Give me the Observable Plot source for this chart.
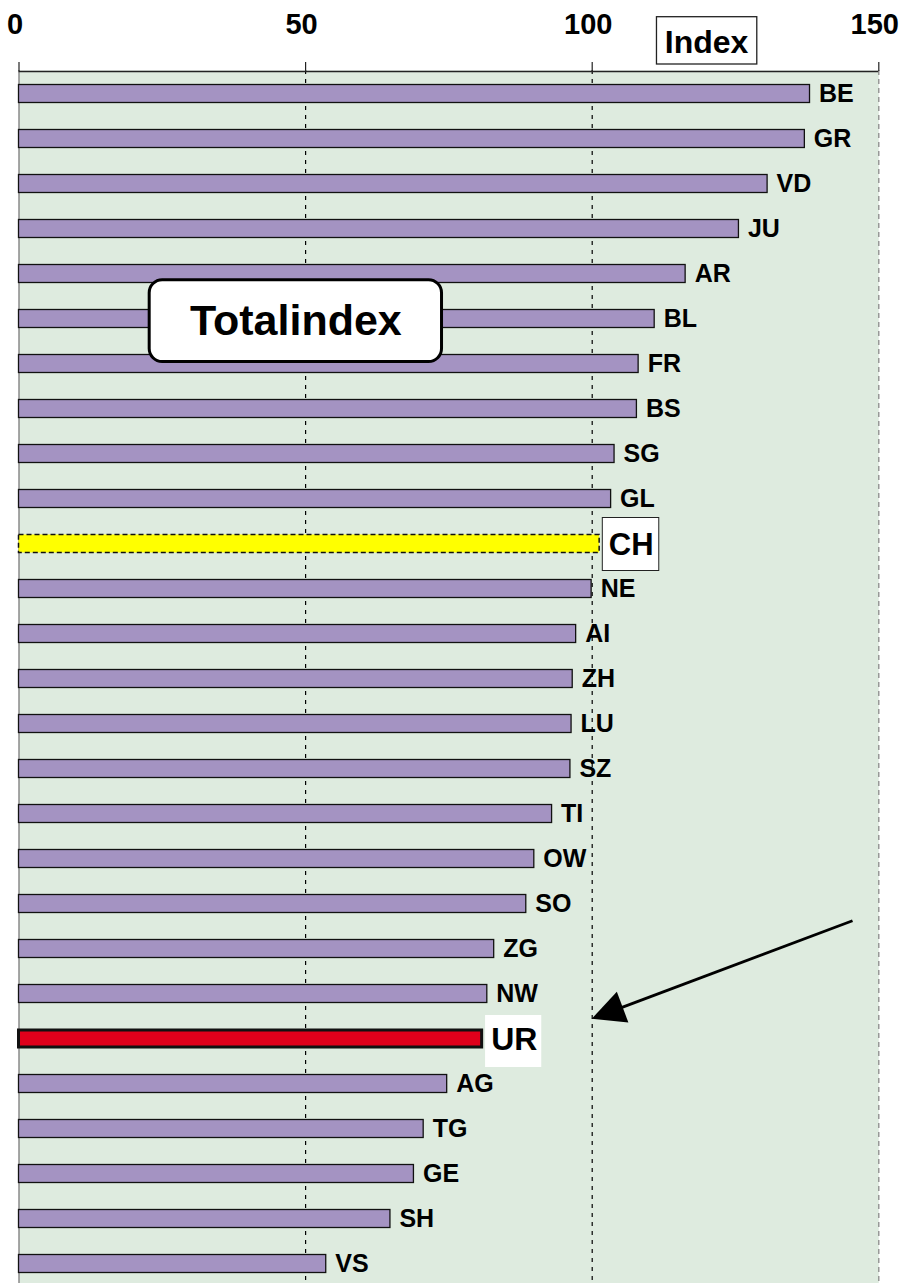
<!DOCTYPE html>
<html>
<head>
<meta charset="utf-8">
<script src="https://cdn.jsdelivr.net/npm/d3@7"></script>
<script src="https://cdn.jsdelivr.net/npm/@observablehq/plot@0.6"></script>
<style>
  body { margin: 0; background: #fff; }
  #chart { width: 910px; height: 1283px; overflow: hidden; }
</style>
</head>
<body>
<div id="chart"></div>
<script>
// ---- data ----
const cantons = ["BE","GR","VD","JU","AR","BL","FR","BS","SG","GL","CH","NE","AI","ZH","LU","SZ","TI","OW","SO","ZG","NW","UR","AG","TG","GE","SH","VS"];
const values  = [138.0,137.1,130.6,125.6,116.3,110.9,108.1,107.8,103.9,103.3,101.3,99.9,97.2,96.6,96.4,96.2,93.0,89.9,88.5,82.9,81.7,80.8,74.7,70.6,68.9,64.8,53.6];
const tickValues = [0, 50, 100, 150];
const gridValues = [50, 100];
const averageCanton = "CH";
const focusCanton = "UR";
const titleBox = [{text: "Totalindex", x1: 22.8, x2: 73.8, row: "BL"}];
const axisTitle = {text: "Index", x1: 111.3, x2: 128.8};
const arrowSpec = {x1: 145.5, from: "SO", x2: 100, to: "UR"};

const data = cantons.map((c, i) => ({canton: c, value: values[i]}));
const regular = data.filter(d => d.canton !== averageCanton && d.canton !== focusCanton);
const avg = data.filter(d => d.canton === averageCanton);
const focus = data.filter(d => d.canton === focusCanton);

const font = "'Liberation Sans', Arial, Helvetica, sans-serif";
const purple = "#a493c2";

const plot = Plot.plot({
  width: 910,
  height: 1283,
  marginLeft: 18.5,
  marginRight: 31.7,
  marginTop: 70,
  marginBottom: 0,
  style: {fontFamily: font, background: "white", color: "black"},
  x: {domain: [0, 150], axis: null},
  y: {domain: cantons, range: [70, 1287], padding: 0, axis: null},
  marks: [
    Plot.frame({fill: "#deebdf", stroke: null}),
    Plot.ruleX(gridValues, {stroke: "black", strokeDasharray: "4,5", strokeWidth: 1.2}),
    Plot.ruleX([150], {stroke: "#8a8a8a", strokeDasharray: "5,4", strokeWidth: 1.3}),
    Plot.ruleX([0], {stroke: "#8a8a8a", strokeWidth: 1.5}),
    Plot.ruleY([cantons[0]], {x1: 0, x2: 150, dy: -22.54, stroke: "#222", strokeWidth: 1.5}),
    Plot.axisX(tickValues, {anchor: "top", tickSize: 9, tickFormat: () => "", stroke: "#222", strokeWidth: 1.2}),
    Plot.text(tickValues, {x: d => d, text: d => String(d), frameAnchor: "top", lineAnchor: "bottom", dy: -37, dx: -4, fontSize: 29, fontWeight: "bold", fill: "black"}),
    // bars
    Plot.barX(regular, {x: "value", y: "canton", fill: purple, stroke: "#111", strokeWidth: 1.3, insetTop: 13.5, insetBottom: 13.5}),
    Plot.barX(avg, {x: "value", y: "canton", fill: "#ffff00", stroke: "#111", strokeWidth: 1.5, strokeDasharray: "5,3", insetTop: 13.5, insetBottom: 13.5}),
    Plot.barX(focus, {x: "value", y: "canton", fill: "#e0001b", stroke: "#111", strokeWidth: 3, insetTop: 14, insetBottom: 14}),
    // labels
    Plot.text(regular, {x: "value", y: "canton", text: "canton", dx: 9, textAnchor: "start", fontSize: 25, fontWeight: "bold", fill: "black"}),
    Plot.barX(avg, {x1: d => d.value + 0.55, x2: d => d.value + 10.4, y: "canton", fill: "white", stroke: "#222", strokeWidth: 1, insetTop: -3.5, insetBottom: -4.5}),
    Plot.text(avg, {x: d => d.value + 5.5, y: "canton", text: "canton", fontSize: 31, fontWeight: "bold", fill: "black", dy: 1}),
    Plot.barX(focus, {x1: d => d.value + 0.6, x2: d => d.value + 10.4, y: "canton", fill: "white", insetTop: -1, insetBottom: -6}),
    Plot.text(focus, {x: d => d.value + 5.6, y: "canton", text: "canton", fontSize: 32, fontWeight: "bold", fill: "black", dy: 1}),
    // title box
    Plot.barX(titleBox, {x1: "x1", x2: "x2", y: "row", fill: "white", stroke: "black", strokeWidth: 3, rx: 13, insetTop: -16.3, insetBottom: -20.6}),
    Plot.text(titleBox, {x: d => (d.x1 + d.x2) / 2, y: "row", text: "text", fontSize: 43, fontWeight: "bold", fill: "black", dy: 2})
  ]
});

// annotations drawn with the plot's scales
const xs = plot.scale("x");
const ys = plot.scale("y");
const svg = d3.select(plot);

const ix1 = xs.apply(axisTitle.x1), ix2 = xs.apply(axisTitle.x2);
svg.append("rect").attr("x", ix1).attr("y", 16.7).attr("width", ix2 - ix1).attr("height", 47.3)
  .attr("fill", "white").attr("stroke", "#222").attr("stroke-width", 1.3);
svg.append("text").attr("x", (ix1 + ix2) / 2).attr("y", 53.3).attr("text-anchor", "middle")
  .attr("font-family", font).attr("font-weight", "bold").attr("font-size", 32).attr("fill", "black")
  .text(axisTitle.text);

const bw = ys.bandwidth;
const sx = xs.apply(arrowSpec.x1), sy = ys.apply(arrowSpec.from) + bw / 2 + 17.2;
const tx = xs.apply(arrowSpec.x2), ty = ys.apply(arrowSpec.to) + bw / 2 - 19.7;
const len = Math.hypot(sx - tx, sy - ty);
const ux = (sx - tx) / len, uy = (sy - ty) / len;
const nx = -uy, ny = ux;
const hl = 33, hw = 16.4;
const bx = tx + ux * hl, by = ty + uy * hl;
svg.append("line").attr("x1", sx).attr("y1", sy).attr("x2", bx + ux * -2).attr("y2", by + uy * -2)
  .attr("stroke", "black").attr("stroke-width", 2.8);
svg.append("path")
  .attr("d", `M${tx},${ty}L${bx + nx * hw},${by + ny * hw}L${bx - nx * hw},${by - ny * hw}Z`)
  .attr("fill", "black");

document.getElementById("chart").appendChild(plot);
</script>
</body>
</html>
